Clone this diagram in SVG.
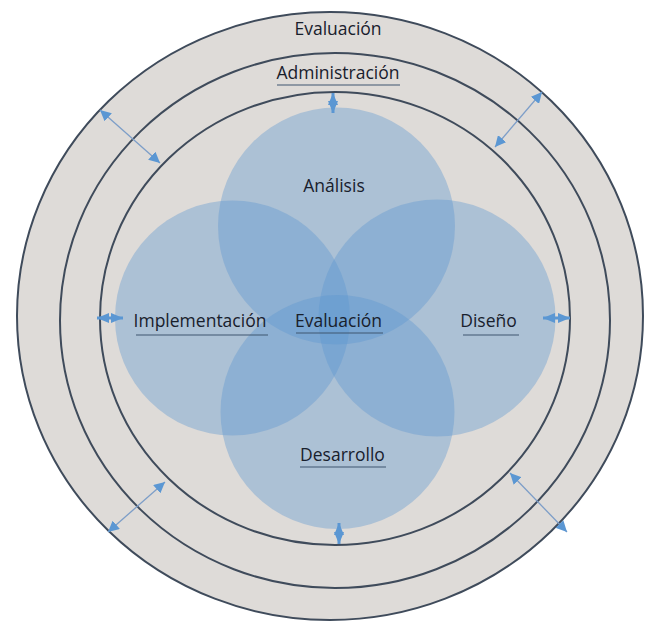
<svg xmlns="http://www.w3.org/2000/svg" width="645" height="627" viewBox="0 0 645 627">
  <style>
    .ring { fill: #dedbd8; stroke: #3f4b5b; stroke-width: 2; }
    .blob { fill: #5d95d0; fill-opacity: 0.38; }
    .lbl { font-family: "Open Sans", "Liberation Sans", sans-serif; font-size: 17.5px; fill: #18202c; text-anchor: middle; }
    .ul { stroke: #3f5670; stroke-width: 1.2; }
    .arr { stroke: #7d9ec8; stroke-width: 1.3; fill: none; marker-start: url(#ah); marker-end: url(#ah); }
    .arrd { stroke: #5b97d3; stroke-width: 3; fill: none; marker-start: url(#ahd); marker-end: url(#ahd); }
  </style>
  <defs>
    <marker id="ah" viewBox="0 0 10 10" refX="10" refY="5" markerWidth="11" markerHeight="11" markerUnits="userSpaceOnUse" orient="auto-start-reverse">
      <path d="M0,0 L10,5 L0,10 z" fill="#5b97d3"/>
    </marker>
    <marker id="ahd" viewBox="0 0 10 10" refX="10" refY="5" markerWidth="12" markerHeight="10" markerUnits="userSpaceOnUse" orient="auto-start-reverse" preserveAspectRatio="none">
      <path d="M0,0 L10,5 L0,10 z" fill="#5b97d3"/>
    </marker>
  </defs>
  <rect width="645" height="627" fill="#ffffff"/>

  <g id="ring-evaluacion">
    <ellipse class="ring" cx="330" cy="316" rx="313" ry="304"/>
    <text class="lbl" x="338" y="35">Evaluación</text>
  </g>
  <g id="ring-administracion">
    <ellipse class="ring" cx="335" cy="320.5" rx="275" ry="267.5"/>
    <text class="lbl" x="338" y="79">Administración</text>
    <line class="ul" x1="277" y1="85" x2="400" y2="85"/>
  </g>
  <g id="ring-interior">
    <ellipse class="ring" cx="335" cy="318.5" rx="235" ry="226.5"/>
  </g>

  <g id="node-analisis">
    <circle class="blob" cx="336.5" cy="226" r="118.5"/>
  </g>
  <g id="node-implementacion">
    <circle class="blob" cx="232.5" cy="318" r="117.5"/>
  </g>
  <g id="node-diseno">
    <circle class="blob" cx="437" cy="318" r="118.5"/>
  </g>
  <g id="node-desarrollo">
    <circle class="blob" cx="337.5" cy="412" r="117"/>
  </g>

  <g id="labels">
    <text class="lbl" x="334" y="192">Análisis</text>
    <text class="lbl" x="200" y="327">Implementación</text>
    <line class="ul" x1="136" y1="335" x2="268" y2="335"/>
    <text class="lbl" x="338.5" y="327">Evaluación</text>
    <line class="ul" x1="296" y1="333" x2="383" y2="333"/>
    <text class="lbl" x="488.5" y="327">Diseño</text>
    <line class="ul" x1="463" y1="335" x2="519" y2="335"/>
    <text class="lbl" x="342.5" y="461">Desarrollo</text>
    <line class="ul" x1="300" y1="467" x2="386" y2="467"/>
  </g>

  <g id="connectors">
    <line class="arrd" x1="333" y1="93" x2="333" y2="113"/>
    <line class="arrd" x1="339" y1="523" x2="339" y2="544"/>
    <line class="arrd" x1="97" y1="318" x2="123" y2="318"/>
    <line class="arrd" x1="543" y1="318" x2="570" y2="318"/>
    <line class="arr" x1="100" y1="110" x2="160" y2="163"/>
    <line class="arr" x1="542" y1="92" x2="495" y2="147"/>
    <line class="arr" x1="165" y1="482" x2="108" y2="532"/>
    <line class="arr" x1="510" y1="473" x2="567" y2="532"/>
  </g>
</svg>
